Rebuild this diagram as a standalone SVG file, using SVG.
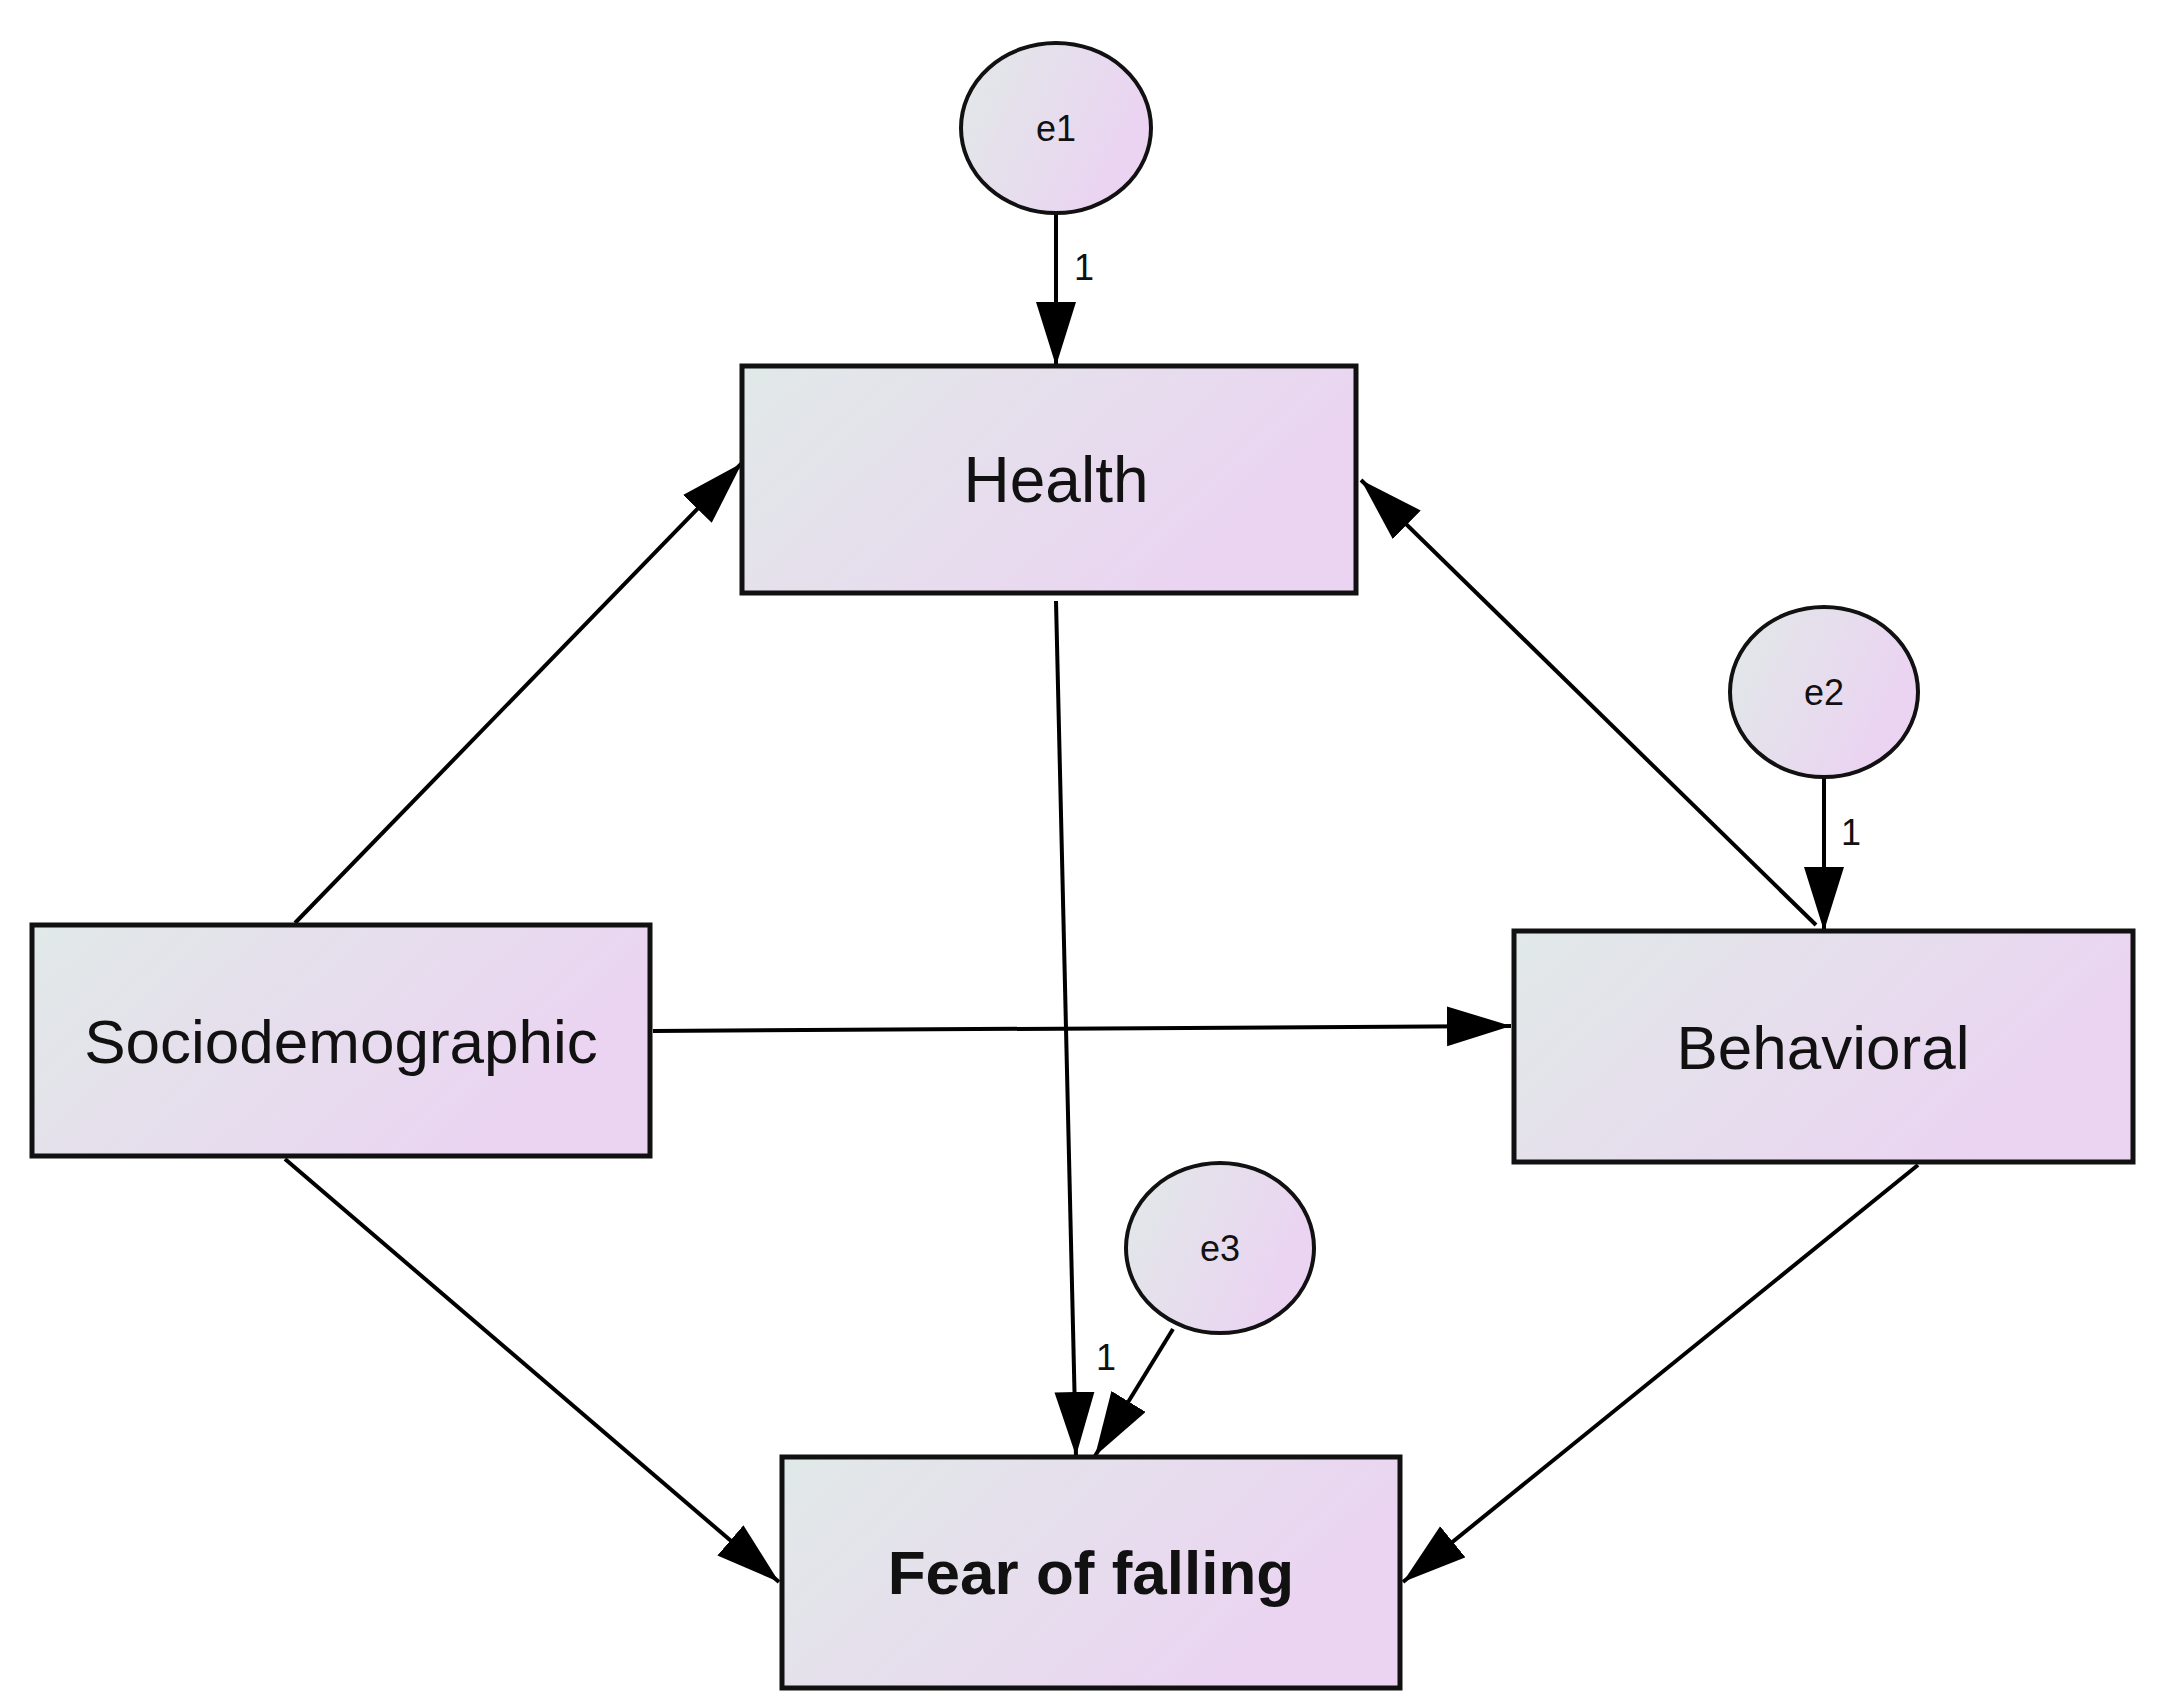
<svg xmlns="http://www.w3.org/2000/svg" width="2165" height="1706" viewBox="0 0 2165 1706">
<style>
.box{stroke:#111;stroke-width:5;fill:url(#g)}
.err{stroke:#111;stroke-width:4;fill:url(#g)}
.t{font-family:"Liberation Sans",Arial,sans-serif;fill:#111;text-anchor:middle}
.c{stroke:#000;stroke-width:4;fill:none;marker-end:url(#ah)}
</style>
<defs>
<linearGradient id="g" x1="0" y1="0" x2="1" y2="0.4"><stop offset="0" stop-color="#e1e9e8"/><stop offset="1" stop-color="#ebd3f2"/></linearGradient>
<marker id="ah" markerUnits="userSpaceOnUse" markerWidth="66" markerHeight="44" refX="64" refY="20" orient="auto"><path d="M0,0 L64,20 L0,40 Z" fill="#000"/></marker>
</defs>
<rect width="2165" height="1706" fill="#fff"/>
<g id="connectors">
<line class="c" x1="1056" y1="213" x2="1056" y2="366"/>
<line class="c" x1="295" y1="923" x2="742" y2="463"/>
<line class="c" x1="1816" y1="925" x2="1361" y2="480"/>
<line class="c" x1="1824" y1="777" x2="1824" y2="931"/>
<line class="c" x1="653" y1="1031" x2="1511" y2="1026"/>
<line class="c" x1="1056" y1="601" x2="1076" y2="1456"/>
<line class="c" x1="1173" y1="1329" x2="1095" y2="1456"/>
<line class="c" x1="285" y1="1159" x2="779" y2="1582"/>
<line class="c" x1="1918" y1="1165" x2="1403" y2="1582"/>
<text class="t" x="1084" y="280" font-size="36">1</text>
<text class="t" x="1851" y="845" font-size="36">1</text>
<text class="t" x="1106" y="1370" font-size="36">1</text>
</g>
<g id="e1"><ellipse class="err" cx="1056" cy="128" rx="95" ry="85"/><text class="t" x="1056" y="141" font-size="36">e1</text></g>
<g id="e2"><ellipse class="err" cx="1824" cy="692" rx="94" ry="85"/><text class="t" x="1824" y="705" font-size="36">e2</text></g>
<g id="e3"><ellipse class="err" cx="1220" cy="1248" rx="94" ry="85"/><text class="t" x="1220" y="1261" font-size="36">e3</text></g>
<g id="health"><rect class="box" x="742" y="366" width="614" height="227"/><text class="t" x="1056" y="502" font-size="64">Health</text></g>
<g id="socio"><rect class="box" x="32" y="925" width="618" height="231"/><text class="t" x="341" y="1063" font-size="62">Sociodemographic</text></g>
<g id="behavioral"><rect class="box" x="1514" y="931" width="619" height="231"/><text class="t" x="1823" y="1069" font-size="62">Behavioral</text></g>
<g id="fear"><rect class="box" x="782" y="1457" width="618" height="231"/><text class="t" x="1091" y="1594" font-size="62" font-weight="bold">Fear of falling</text></g>
</svg>
